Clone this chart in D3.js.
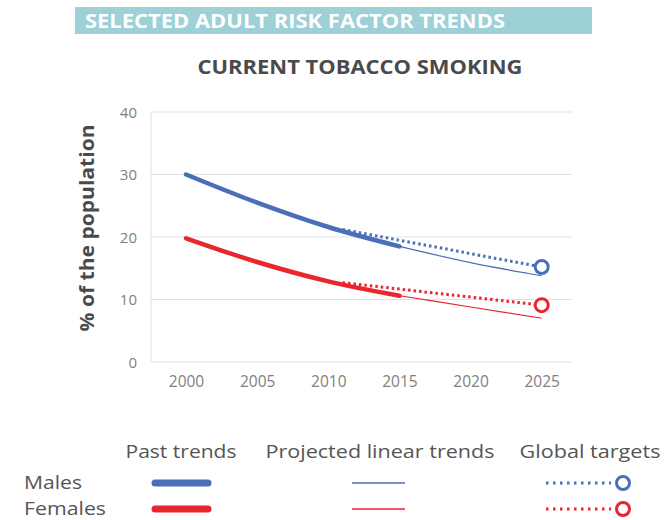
<!DOCTYPE html>
<html>
<head>
<meta charset="utf-8">
<script src="https://cdn.jsdelivr.net/npm/d3@7"></script>
<style>
  body { margin: 0; background: #fff; }
  svg text { font-family: 'Open Sans', Lato, sans-serif; }
</style>
</head>
<body>
<div class="canvas"></div>
<script>
'use strict';

// values
const pastYears = [2000, 2005, 2010, 2015];
const malesPast = [30, 25.5, 21.6, 18.5];
const femalesPast = [19.8, 16, 12.9, 10.6];

const projYears = [2015, 2020, 2025];
const malesProj = [18.5, 15.9, 13.8];
const femalesProj = [10.6, 8.8, 7.0];

const targetYears = [2011, 2025];
const malesTarget = [21.2, 15.2];
const femalesTarget = [12.7, 9.1];

const xTicks = [2000, 2005, 2010, 2015, 2020, 2025];
const yTicks = [0, 10, 20, 30, 40];

const blue = '#4a6fb8';
const red = '#e8262d';

const svg = d3.select('.canvas')
    .append('svg')
    .attr('width', 666)
    .attr('height', 520);

// header bar
svg.append('rect')
    .attr('x', 75).attr('y', 7)
    .attr('width', 517).attr('height', 27)
    .attr('fill', '#9dd0d7');
svg.append('text')
    .attr('x', 85).attr('y', 27.5)
    .attr('fill', '#fff')
    .attr('font-size', 19.5).attr('font-weight', 'bold')
    .attr('textLength', 420).attr('lengthAdjust', 'spacingAndGlyphs')
    .text('SELECTED ADULT RISK FACTOR TRENDS');

svg.append('text')
    .attr('x', 360).attr('y', 74)
    .attr('text-anchor', 'middle')
    .attr('fill', '#4a4a4a')
    .attr('font-size', 20).attr('font-weight', 'bold')
    .attr('textLength', 325).attr('lengthAdjust', 'spacingAndGlyphs')
    .text('CURRENT TOBACCO SMOKING');

const x = d3.scaleLinear().domain([2000, 2025]).range([186, 541.7]);
const y = d3.scaleLinear().domain([0, 40]).range([362, 112]);
const plotLeft = 151, plotRight = 572;

// gridlines
svg.append('g')
    .selectAll('line')
    .data(yTicks)
    .join('line')
    .attr('x1', plotLeft).attr('x2', plotRight)
    .attr('y1', d => y(d)).attr('y2', d => y(d))
    .attr('stroke', '#e2e2e2').attr('stroke-width', 1);

svg.append('line')
    .attr('x1', plotLeft).attr('x2', plotLeft)
    .attr('y1', y(40)).attr('y2', y(0))
    .attr('stroke', '#e2e2e2');

const yAxis = svg.append('g')
    .attr('transform', `translate(${plotLeft - 14},0)`)
    .call(d3.axisLeft(y).tickValues(yTicks).tickSize(0).tickPadding(0));
yAxis.select('.domain').remove();
yAxis.selectAll('text')
    .attr('fill', '#7f7f7f').attr('font-size', 15).attr('dy', '0.35em');

const xAxis = svg.append('g')
    .attr('transform', `translate(0,${y(0) + 13})`)
    .call(d3.axisBottom(x).tickValues(xTicks).tickFormat(d3.format('d')).tickSize(0).tickPadding(0));
xAxis.select('.domain').remove();
xAxis.selectAll('text')
    .attr('fill', '#7f7f7f').attr('font-size', 15.5).attr('dy', '0.8em');

svg.append('text')
    .attr('transform', 'translate(94,228) rotate(-90)')
    .attr('text-anchor', 'middle')
    .attr('fill', '#4a4a4a')
    .attr('font-size', 19).attr('font-weight', 'bold')
    .attr('textLength', 207).attr('lengthAdjust', 'spacingAndGlyphs')
    .text('% of the population');

const line = d3.line()
    .x(d => x(d[0]))
    .y(d => y(d[1]))
    .curve(d3.curveMonotoneX);

const pairs = (xs, ys) => xs.map((v, i) => [v, ys[i]]);

const series = [
    { colour: blue, past: malesPast, proj: malesProj, target: malesTarget },
    { colour: red, past: femalesPast, proj: femalesProj, target: femalesTarget }
];

series.forEach(s => {
    svg.append('path')
        .attr('d', line(pairs(targetYears, s.target)))
        .attr('fill', 'none').attr('stroke', s.colour)
        .attr('stroke-width', 3).attr('stroke-dasharray', '2.5 3');

    svg.append('path')
        .attr('d', line(pairs(projYears, s.proj)))
        .attr('fill', 'none').attr('stroke', s.colour)
        .attr('stroke-width', 1.2);

    svg.append('path')
        .attr('d', line(pairs(pastYears, s.past)))
        .attr('fill', 'none').attr('stroke', s.colour)
        .attr('stroke-width', 4.5).attr('stroke-linecap', 'round');

    svg.append('circle')
        .attr('cx', x(targetYears[1])).attr('cy', y(s.target[1]))
        .attr('r', 6.5)
        .attr('fill', '#fff').attr('stroke', s.colour).attr('stroke-width', 3);
});

// legend
const legend = svg.append('g');
const legendFont = 19;
[['Past trends', 181, 111], ['Projected linear trends', 380, 229], ['Global targets', 590, 141]].forEach(([t, cx, w]) => {
    legend.append('text')
        .attr('x', cx).attr('y', 458)
        .attr('text-anchor', 'middle')
        .attr('fill', '#555').attr('font-size', legendFont)
        .attr('textLength', w).attr('lengthAdjust', 'spacingAndGlyphs')
        .text(t);
});

[['Males', blue, 483, 58], ['Females', red, 509, 82]].forEach(([name, c, ly, w]) => {
    legend.append('text')
        .attr('x', 24).attr('y', ly + 6)
        .attr('fill', '#555').attr('font-size', 18.5)
        .attr('textLength', w).attr('lengthAdjust', 'spacingAndGlyphs')
        .text(name);
    legend.append('line')
        .attr('x1', 155).attr('x2', 208).attr('y1', ly).attr('y2', ly)
        .attr('stroke', c).attr('stroke-width', 7).attr('stroke-linecap', 'round');
    legend.append('line')
        .attr('x1', 352).attr('x2', 405).attr('y1', ly).attr('y2', ly)
        .attr('stroke', c).attr('stroke-width', 1.3);
    legend.append('line')
        .attr('x1', 546).attr('x2', 611).attr('y1', ly).attr('y2', ly)
        .attr('stroke', c).attr('stroke-width', 3).attr('stroke-dasharray', '2.5 4.5');
    legend.append('circle')
        .attr('cx', 623).attr('cy', ly).attr('r', 6.5)
        .attr('fill', '#fff').attr('stroke', c).attr('stroke-width', 3);
});
</script>
</body>
</html>
